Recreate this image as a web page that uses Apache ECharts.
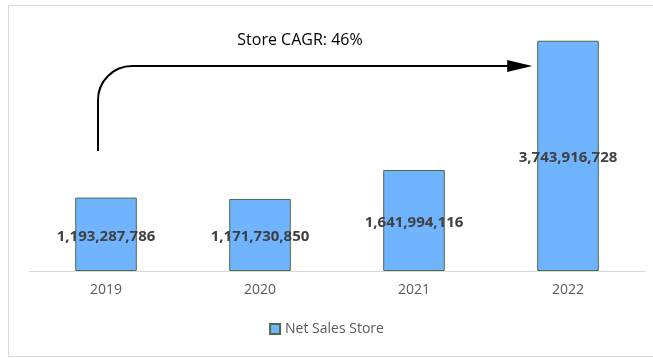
<!DOCTYPE html>
<html>
<head>
<meta charset="utf-8">
<script src="https://cdn.jsdelivr.net/npm/echarts@6/dist/echarts.min.js"></script>
<style>
  html, body { margin: 0; padding: 0; background: #fff; }
  #chart { width: 653px; height: 358px; }
</style>
</head>
<body>
<div id="chart"></div>
<script>
// Net sales per year (store channel)
const years = ['2019', '2020', '2021', '2022'];
const netSalesStore = [1193287786, 1171730850, 1641994116, 3743916728];
const seriesName = 'Net Sales Store';
const cagrText = 'Store CAGR: 46%';

const chart = echarts.init(document.getElementById('chart'), null, { renderer: 'canvas' });
const font = 'Open Sans, Noto Sans, sans-serif';

const option = {
  backgroundColor: '#ffffff',
  animation: false,
  grid: { left: 29, right: 8, top: 25, bottom: 87 },
  xAxis: {
    type: 'category',
    data: years,
    axisLine: { lineStyle: { color: '#D9D9D9', width: 1 } },
    axisTick: { show: false },
    axisLabel: { color: '#595959', fontSize: 14, fontFamily: font, margin: 12 }
  },
  yAxis: {
    type: 'value',
    min: 0,
    max: 4000000000,
    show: false,
    splitLine: { show: false }
  },
  legend: {
    bottom: 17,
    left: 'center',
    icon: 'rect',
    itemWidth: 10,
    itemHeight: 10,
    itemGap: 6,
    textStyle: { color: '#595959', fontSize: 14, fontFamily: font },
    data: [seriesName]
  },
  series: [{
    name: seriesName,
    type: 'bar',
    data: netSalesStore,
    barWidth: '40%',
    itemStyle: { color: '#70B4FF', borderColor: '#4E6B47', borderWidth: 1 },
    label: {
      show: true,
      position: 'inside',
      offset: [0, 2],
      color: '#404040',
      fontWeight: 'bold',
      fontSize: 15,
      fontFamily: font,
      formatter: p => p.value.toLocaleString('en-US')
    }
  }]
};
chart.setOption(option);

// CAGR arrow: rises above the first bar, bends right and points at the last bar
const first = chart.convertToPixel({ seriesIndex: 0 }, [0, 0]);
const last = chart.convertToPixel({ seriesIndex: 0 }, [years.length - 1, 0]);
const barHalf = 0.4 * (last[0] - first[0]) / (years.length - 1) / 2;
const x0 = first[0] - 8;
const yStart = 151, yLine = 66, r = 34;
const tipX = last[0] - barHalf - 5;
const headLen = 25, headHalf = 6;
const arrowStyle = { fill: 'none', stroke: '#000', lineWidth: 2 };

chart.setOption({
  graphic: [
    {
      type: 'rect',
      shape: { x: 8.5, y: 5.5, width: 660, height: 351 },
      style: { fill: 'none', stroke: '#D9D9D9', lineWidth: 1 },
      silent: true, z: -1
    },
    {
      type: 'line',
      shape: { x1: x0, y1: yStart, x2: x0, y2: yLine + r },
      style: arrowStyle
    },
    {
      type: 'arc',
      shape: { cx: x0 + r, cy: yLine + r, r: r, startAngle: Math.PI, endAngle: Math.PI * 1.5, clockwise: true },
      style: arrowStyle
    },
    {
      type: 'line',
      shape: { x1: x0 + r, y1: yLine, x2: tipX - headLen + 2, y2: yLine },
      style: arrowStyle
    },
    {
      type: 'polygon',
      shape: { points: [[tipX, yLine], [tipX - headLen, yLine - headHalf], [tipX - headLen, yLine + headHalf]] },
      style: { fill: '#000' }
    },
    {
      type: 'text',
      x: 300, y: 40,
      style: { text: cagrText, fill: '#000', font: '16px ' + font, textAlign: 'center', textVerticalAlign: 'middle' }
    }
  ]
});
</script>
</body>
</html>
